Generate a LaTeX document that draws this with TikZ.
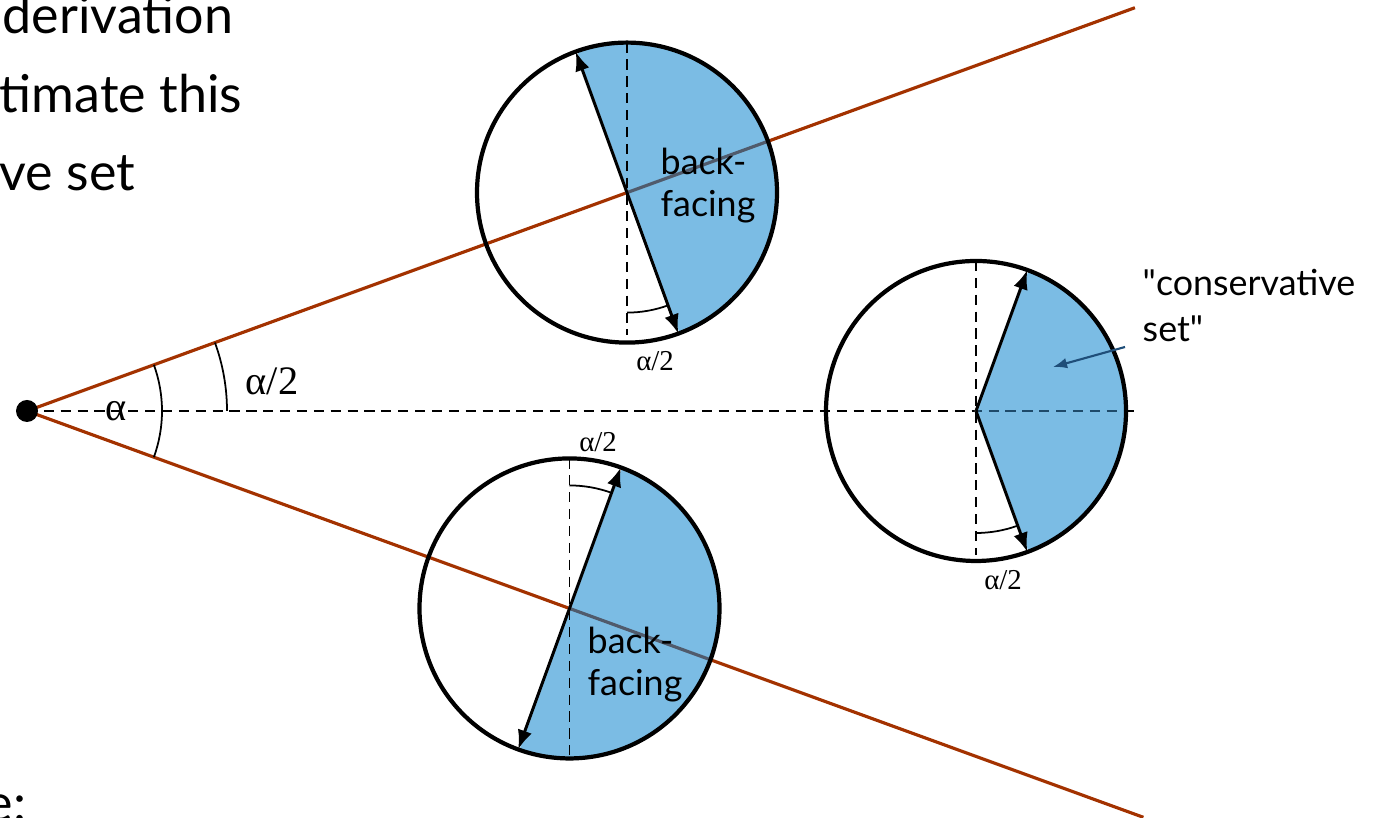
\documentclass[tikz,border=0pt]{standalone}
\usepackage{fontspec}
\setmainfont{Lato}
\newfontfamily\greekfont{Liberation Serif}
\usetikzlibrary{arrows.meta}
\definecolor{Ink}{HTML}{000000}
\definecolor{Ray}{HTML}{A33200}
\definecolor{Sky}{HTML}{7BBCE4}
\definecolor{RaySky}{HTML}{505B6C}
\definecolor{DashSky}{HTML}{1E4A6A}
\definecolor{Callout}{HTML}{1F4E79}
\tikzset{
  ray/.style={draw=Ray,line width=0.9pt},
  sightline/.style={draw=Ink,line width=0.55pt,dash pattern=on 2.9pt off 1.9pt},
  rim/.style={draw=Ink,line width=1.2pt},
  facenormal/.style={draw=Ink,line width=0.85pt,{Latex[length=5.5pt,width=4.2pt]}-{Latex[length=5.5pt,width=4.2pt]}},
  halfnormal/.style={draw=Ink,line width=0.85pt,-{Latex[length=5.5pt,width=4.2pt]}},
  backface/.style={fill=Sky,draw=white,line width=0.7pt},
  anglearc/.style={draw=Ink,line width=0.5pt},
  slidetext/.style={font=\fontsize{14.8}{18}\selectfont,anchor=base west,inner sep=0pt},
  facetext/.style={font=\fontsize{10.2}{12.2}\selectfont,align=left,anchor=base west,inner sep=0pt},
  greeksmall/.style={font=\greekfont\fontsize{8.2}{9}\selectfont,inner sep=0pt},
  greekbig/.style={font=\greekfont\fontsize{11.5}{12}\selectfont,inner sep=0pt}
}
\begin{document}
\begin{tikzpicture}
  \useasboundingbox (0,0) rectangle (13.75,8.18);
  \coordinate (V) at (0.27,4.07);
  \coordinate (axisEnd) at (11.40,4.07);
  \path (V) ++(20:11.79) coordinate (upEnd);
  \path (V) ++(-20:11.88) coordinate (lowEnd);
  \path (V) ++(20:6.385) coordinate (U);
  \path (V) ++(-20:5.773) coordinate (L);
  \coordinate (R) at (9.76,4.07);

  % sight lines
  \draw[sightline] (V) -- (axisEnd);
  \draw[ray] (V) -- (upEnd);
  \draw[ray] (V) -- (lowEnd);

  % upper sphere
  \fill[backface] (U) ++(-70:1.5) arc[start angle=-70,end angle=110,radius=1.5] -- cycle;
  \begin{scope}
    \clip (U) ++(-70:1.5) arc[start angle=-70,end angle=110,radius=1.5] -- cycle;
    \draw[ray,draw=RaySky] (V) -- (upEnd);
  \end{scope}
  \draw[sightline] (U) ++(0,1.5) -- ++(0,-2.92);
  \path (U) ++(110:1.5) coordinate (uTop) (U) ++(-70:1.5) coordinate (uBot);
  \draw[facenormal] (uTop) -- (uBot);
  \draw[rim] (U) circle[radius=1.5];
  \draw[anglearc] (U) ++(-90:1.2) arc[start angle=-90,end angle=-70,radius=1.2];
  \node[facetext] (uBack) at (6.60,6.01) {back-\\facing};
  \node[greeksmall] (uAngle) at (6.55,4.57) {α/2};

  % lower sphere
  \fill[backface] (L) ++(-110:1.5) arc[start angle=-110,end angle=70,radius=1.5] -- cycle;
  \begin{scope}
    \clip (L) ++(-110:1.5) arc[start angle=-110,end angle=70,radius=1.5] -- cycle;
    \draw[ray,draw=RaySky] (V) -- (lowEnd);
  \end{scope}
  \draw[sightline] (L) ++(0,1.5) -- ++(0,-3);
  \path (L) ++(70:1.5) coordinate (lTop) (L) ++(-110:1.5) coordinate (lBot);
  \draw[facenormal] (lBot) -- (lTop);
  \draw[rim] (L) circle[radius=1.5];
  \draw[anglearc] (L) ++(90:1.23) arc[start angle=90,end angle=70,radius=1.23];
  \node[facetext] (lBack) at (5.87,1.22) {back-\\facing};
  \node[greeksmall] (lAngle) at (5.98,3.76) {α/2};

  % right sphere
  \fill[backface] (R) -- ++(-70:1.5) arc[start angle=-70,end angle=70,radius=1.5] -- cycle;
  \begin{scope}
    \clip (R) -- ++(-70:1.5) arc[start angle=-70,end angle=70,radius=1.5] -- cycle;
    \draw[sightline,draw=DashSky] (V) -- (axisEnd);
  \end{scope}
  \draw[sightline] (R) ++(0,1.5) -- ++(0,-2.94);
  \path (R) ++(70:1.5) coordinate (rTop) (R) ++(-70:1.5) coordinate (rBot);
  \draw[halfnormal] (R) -- (rTop);
  \draw[halfnormal] (R) -- (rBot);
  \draw[rim] (R) circle[radius=1.5];
  \draw[anglearc] (R) ++(-90:1.22) arc[start angle=-90,end angle=-70,radius=1.22];
  \node[greeksmall] (rAngle) at (10.03,2.38) {α/2};
  \node[facetext,font=\fontsize{10.2}{13.2}\selectfont] (cons) at (11.42,4.76) {\textquotedbl conservative\\set\textquotedbl};
  \coordinate (consTail) at (11.25,4.71);
  \coordinate (consHead) at (10.53,4.51);
  \draw[Callout,line width=0.6pt,-{Latex[length=4pt,width=3pt]}] (consTail) -- (consHead);

  % eye point and angles
  \fill[Ink] (V) circle[radius=0.11];
  \draw[anglearc] (V) ++(-20:1.35) arc[start angle=-20,end angle=20,radius=1.35];
  \draw[anglearc] (V) ++(0:2.0) arc[start angle=0,end angle=20,radius=2.0];
  \node[greekbig] (alpha) at (1.16,4.07) {α};
  \node[greekbig] (halfAlpha) at (2.72,4.37) {α/2};

  % slide text cut off at the left
  \node[slidetext] (line1) at (0.02,7.84) {derivation};
  \node[slidetext] (line2) at (-0.01,7.05) {timate this};
  \node[slidetext] (line3) at (-0.01,6.27) {ve set};
  \node[slidetext] (line4) at (-0.15,-0.04) {e:};
\end{tikzpicture}
\end{document}
